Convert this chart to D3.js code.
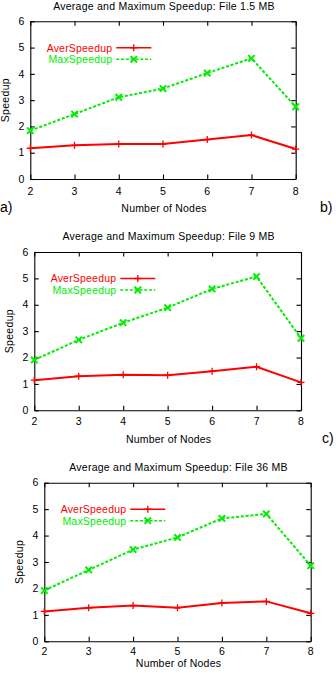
<!DOCTYPE html>
<html>
<head>
<meta charset="utf-8">
<script src="https://cdn.jsdelivr.net/npm/d3@7"></script>
<style>
  html, body { margin: 0; padding: 0; background: #fff; }
  svg { display: block; }
  text { font-family: "Liberation Sans", Arial, Helvetica, sans-serif; }
</style>
</head>
<body>
<svg id="chart" width="336" height="673"></svg>
<script>
// Number of nodes on the x axis
const nodes = [2, 3, 4, 5, 6, 7, 8];
const xTicks = [2, 3, 4, 5, 6, 7, 8];
const yTicks = [0, 1, 2, 3, 4, 5, 6];

// Panel titles
const titles = [
  "Average and Maximum Speedup: File 1.5 MB",
  "Average and Maximum Speedup: File 9 MB",
  "Average and Maximum Speedup: File 36 MB"
];

// Speedup series, one pair per file size
const averSpeedup15 = [1.17, 1.28, 1.33, 1.33, 1.50, 1.67, 1.14];
const maxSpeedup15  = [1.84, 2.47, 3.11, 3.44, 4.03, 4.59, 2.75];
const averSpeedup9  = [1.14, 1.29, 1.35, 1.33, 1.48, 1.65, 1.06];
const maxSpeedup9   = [1.91, 2.67, 3.32, 3.89, 4.60, 5.07, 2.73];
const averSpeedup36 = [1.13, 1.27, 1.35, 1.27, 1.45, 1.51, 1.06];
const maxSpeedup36  = [1.92, 2.70, 3.47, 3.93, 4.65, 4.82, 2.86];

const seriesNames = ["AverSpeedup", "MaxSpeedup"];
const xLabel = "Number of Nodes";
const yLabel = "Speedup";

// Panel frames (plot area edges) and the side letters drawn next to each panel
const panels = [
  { title: titles[0], aver: averSpeedup15, max: maxSpeedup15,
    left: 30.3, right: 295.7, top: 21.3, bottom: 179,
    titleY: 9.6, tickY: 195, xLabelY: 211.5,
    marks: [{ t: "a)", x: 0, y: 212 }, { t: "b)", x: 320, y: 212 }] },
  { title: titles[1], aver: averSpeedup9, max: maxSpeedup9,
    left: 34.3, right: 301, top: 252, bottom: 410.3,
    titleY: 240, tickY: 425, xLabelY: 442.5,
    marks: [{ t: "c)", x: 322, y: 443 }] },
  { title: titles[2], aver: averSpeedup36, max: maxSpeedup36,
    left: 44.3, right: 310.7, top: 482.7, bottom: 641.3,
    titleY: 470.5, tickY: 655.2, xLabelY: 667.4,
    marks: [] }
];

const RED = "#ff0000";
const GREEN = "#00ee00";
const FS = 10.5;
const svg = d3.select("#chart");

function plusPath(s) { return `M${-s},0H${s}M0,${-s}V${s}`; }
function crossPath(s) { return `M${-s},${-s}L${s},${s}M${-s},${s}L${s},${-s}`; }

panels.forEach(p => {
  const g = svg.append("g");
  const x = d3.scaleLinear().domain([2, 8]).range([p.left, p.right]);
  const y = d3.scaleLinear().domain([0, 6]).range([p.bottom, p.top]);
  const tl = 4.5;

  // Title
  g.append("text")
    .attr("x", (p.left + p.right) / 2 + 1)
    .attr("y", p.titleY)
    .attr("text-anchor", "middle")
    .attr("font-size", FS)
    .attr("letter-spacing", 0.25)
    .text(p.title);

  // Axes: ticks on all four sides pointing inward
  const bottomAxis = d3.axisBottom(x).tickValues(xTicks).tickSizeInner(-tl).tickSizeOuter(0).tickFormat("");
  const topAxis = d3.axisTop(x).tickValues(xTicks).tickSizeInner(-tl).tickSizeOuter(0).tickFormat("");
  const leftAxis = d3.axisLeft(y).tickValues(yTicks).tickSizeInner(-tl).tickSizeOuter(0).tickFormat("");
  const rightAxis = d3.axisRight(y).tickValues(yTicks).tickSizeInner(-tl).tickSizeOuter(0).tickFormat("");
  [[bottomAxis, `translate(0,${p.bottom})`], [topAxis, `translate(0,${p.top})`],
   [leftAxis, `translate(${p.left},0)`], [rightAxis, `translate(${p.right},0)`]].forEach(([ax, tr]) => {
    const a = g.append("g").attr("transform", tr).call(ax);
    a.selectAll("path, line").attr("stroke", "#000").attr("stroke-width", 1.1);
  });

  // Tick labels
  g.append("g").selectAll("text").data(xTicks).join("text")
    .attr("x", d => x(d))
    .attr("y", p.tickY)
    .attr("text-anchor", "middle")
    .attr("font-size", FS)
    .text(d => d);
  g.append("g").selectAll("text").data(yTicks).join("text")
    .attr("x", p.left - 6)
    .attr("y", d => y(d) + 3.7)
    .attr("text-anchor", "end")
    .attr("font-size", FS)
    .text(d => d);

  // Axis labels
  g.append("text")
    .attr("x", (p.left + p.right) / 2 + 1)
    .attr("y", p.xLabelY)
    .attr("text-anchor", "middle")
    .attr("font-size", FS)
    .attr("letter-spacing", 0.2)
    .text(xLabel);
  g.append("text")
    .attr("transform", `translate(${p.left - 21.5},${(p.top + p.bottom) / 2}) rotate(-90)`)
    .attr("text-anchor", "middle")
    .attr("font-size", FS)
    .attr("letter-spacing", 0.3)
    .text(yLabel);

  // Side letters
  p.marks.forEach(m => {
    g.append("text")
      .attr("x", m.x).attr("y", m.y)
      .attr("font-family", "'Liberation Serif', 'Times New Roman', serif")
      .attr("font-size", 14)
      .text(m.t);
  });

  const line = d3.line().x((d, i) => x(nodes[i])).y(d => y(d));

  // Average speedup: solid red with plus markers
  g.append("path").datum(p.aver)
    .attr("d", line).attr("fill", "none")
    .attr("stroke", RED).attr("stroke-width", 2);
  g.append("g").selectAll("path").data(p.aver).join("path")
    .attr("transform", (d, i) => `translate(${x(nodes[i])},${y(d)})`)
    .attr("d", plusPath(3.5))
    .attr("stroke", RED).attr("stroke-width", 1.3).attr("fill", "none");

  // Maximum speedup: dashed green with cross markers
  g.append("path").datum(p.max)
    .attr("d", line).attr("fill", "none")
    .attr("stroke", GREEN).attr("stroke-width", 2)
    .attr("stroke-dasharray", "3,1.8");
  g.append("g").selectAll("path").data(p.max).join("path")
    .attr("transform", (d, i) => `translate(${x(nodes[i])},${y(d)})`)
    .attr("d", crossPath(3.2))
    .attr("stroke", GREEN).attr("stroke-width", 2).attr("fill", "none");

  // Legend
  const lx0 = p.left + 86, lx1 = p.left + 121, lxm = (lx0 + lx1) / 2;
  const rows = [
    { name: seriesNames[0], color: RED, dash: null, marker: plusPath(3.5), sw: 1.3, dy: 26.5 },
    { name: seriesNames[1], color: GREEN, dash: "3,1.8", marker: crossPath(3.2), sw: 2, dy: 38 }
  ];
  rows.forEach(r => {
    const ly = p.top + r.dy;
    g.append("text")
      .attr("x", p.left + 82).attr("y", ly + 3.8)
      .attr("text-anchor", "end")
      .attr("font-size", FS)
      .attr("letter-spacing", 0.2)
      .attr("fill", r.color)
      .text(r.name);
    g.append("line")
      .attr("x1", lx0).attr("x2", lx1).attr("y1", ly).attr("y2", ly)
      .attr("stroke", r.color).attr("stroke-width", 1.5)
      .attr("stroke-dasharray", r.dash);
    g.append("path")
      .attr("transform", `translate(${lxm},${ly})`)
      .attr("d", r.marker)
      .attr("stroke", r.color).attr("stroke-width", r.sw).attr("fill", "none");
  });
});
</script>
</body>
</html>
